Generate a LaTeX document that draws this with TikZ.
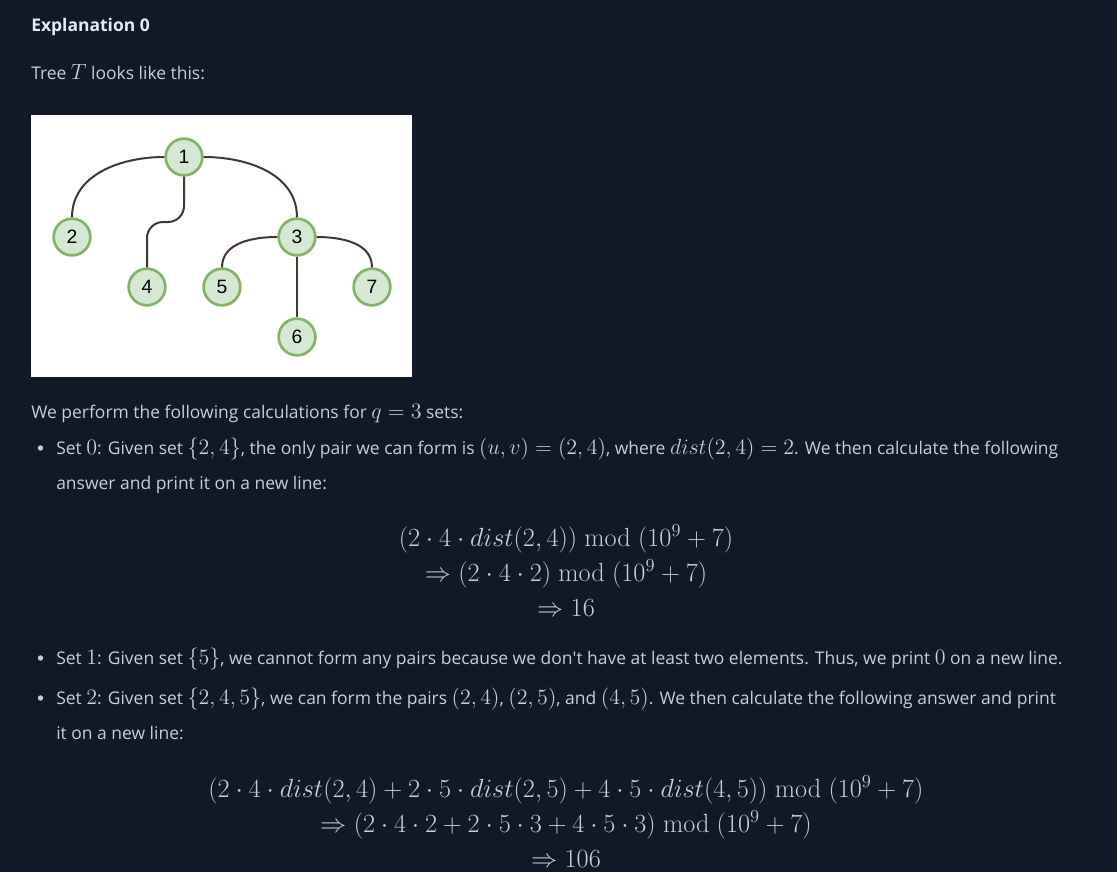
\RequirePackage{fix-cm}
\documentclass[tikz,border=0pt]{standalone}
\usepackage{amsmath}
\usepackage[no-math]{fontspec}
\setmainfont{Open Sans}
\newfontfamily\treefont{Liberation Sans}
\usetikzlibrary{positioning}
\definecolor{pagebg}{HTML}{111827}
\definecolor{bodytext}{HTML}{C9CED6}
\definecolor{headtext}{HTML}{E5E9F0}
\definecolor{vfill}{HTML}{D5E8D4}
\definecolor{vline}{HTML}{82B366}
\definecolor{edgec}{HTML}{45372D}
\newcommand{\mth}[1]{{\fontsize{16.5}{19}\selectfont$#1$}}

\begin{document}
\begin{tikzpicture}[x=0.75pt, y=-0.75pt,
  txt/.style={anchor=base west, inner sep=0pt, text=bodytext, font=\fontsize{13.1}{16}\selectfont},
  eqn/.style={anchor=base, inner sep=0pt, text=bodytext, font=\fontsize{19.7}{23}\selectfont},
  vert/.style={circle, draw=vline, fill=vfill, line width=2pt, minimum size=27.5pt, inner sep=0pt, font=\treefont\fontsize{14.5}{16}\selectfont},
  edge/.style={draw=edgec, line width=1.5pt}]
  \useasboundingbox (0,0) rectangle (1117,872);
  \fill[pagebg] (0,0) rectangle (1117,872);

  % heading and intro
  \node[txt, text=headtext, font=\bfseries\fontsize{13.1}{16}\selectfont] (head) at (31,31.5) {Explanation 0};
  \node[txt] (treeline) at (31,79) {Tree \mth{T} looks like this:};

  % the tree picture
  \fill[white] (31,115) rectangle (412,377);
  \foreach \n/\x/\y in {1/184/157, 2/72/237, 3/297/237, 4/147/287, 5/222/287, 6/297/337, 7/372/287}
    \node[vert] (v\n) at (\x,\y) {\n};
  \coordinate (bend4) at (147,222);
  \draw[edge] (v1) to[out=180, in=90] (v2);
  \draw[edge] (v1) to[out=0, in=90] (v3);
  \draw[edge, rounded corners=12pt] (v1) |- (bend4) -- (v4);
  \draw[edge] (v3) to[out=180, in=90] (v5);
  \draw[edge] (v3) to[out=0, in=90] (v7);
  \draw[edge] (v3) -- (v6);

  % calculations
  \node[txt] (intro) at (31,418) {We perform the following calculations for \mth{q=3} sets:};
  \foreach \y in {454,664,704}
    \fill[bodytext] (40.5,{\y-6}) circle (2.7);
  \node[txt] (set0a) at (56,454) {Set \mth{0}: Given set \mth{\{2,4\}}, the only pair we can form is \mth{(u,v)=(2,4)}, where \mth{dist(2,4)=2}. We then calculate the following};
  \node[txt] (set0b) at (56,489) {answer and print it on a new line:};
  \node[eqn] (eq0a) at (566,546) {$(2\cdot 4\cdot dist(2,4))\bmod (10^9+7)$};
  \node[eqn] (eq0b) at (566,581) {$\Rightarrow (2\cdot 4\cdot 2)\bmod (10^9+7)$};
  \node[eqn] (eq0c) at (566,616) {$\Rightarrow 16$};

  \node[txt] (set1) at (56,664) {Set \mth{1}: Given set \mth{\{5\}}, we cannot form any pairs because we don\textquotesingle t have at least two elements. Thus, we print \mth{0} on a new line.};
  \node[txt] (set2a) at (56,704) {Set \mth{2}: Given set \mth{\{2,4,5\}}, we can form the pairs \mth{(2,4)}, \mth{(2,5)}, and \mth{(4,5)}. We then calculate the following answer and print};
  \node[txt] (set2b) at (56,739) {it on a new line:};
  \node[eqn] (eq2a) at (566,797) {$(2\cdot 4\cdot dist(2,4)+2\cdot 5\cdot dist(2,5)+4\cdot 5\cdot dist(4,5))\bmod (10^9+7)$};
  \node[eqn] (eq2b) at (566,832) {$\Rightarrow (2\cdot 4\cdot 2+2\cdot 5\cdot 3+4\cdot 5\cdot 3)\bmod (10^9+7)$};
  \node[eqn] (eq2c) at (566,867) {$\Rightarrow 106$};
\end{tikzpicture}
\end{document}
